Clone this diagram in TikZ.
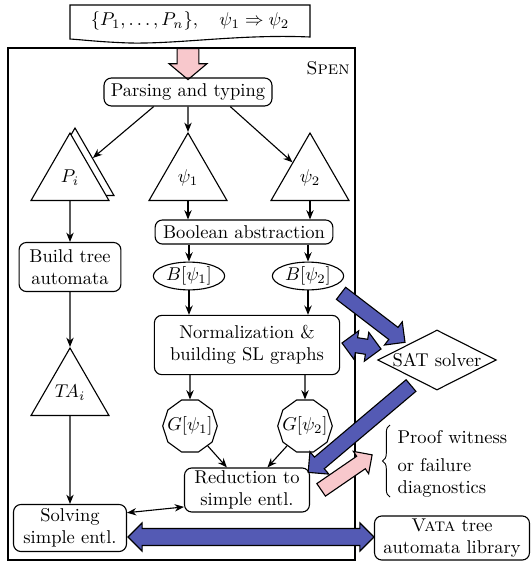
\documentclass[tikz,border=0pt]{standalone}
\usetikzlibrary{shapes.geometric,shapes.arrows,arrows.meta,calc,decorations.pathreplacing}
\definecolor{fatblue}{RGB}{84,90,180}
\definecolor{fatpink}{RGB}{248,200,204}
\newcommand\fatarrow[3]{\path let \p1=($(#3)-(#2)$), \n1={atan2(\y1,\x1)}, \n2={veclen(\x1,\y1)} in node[#1, minimum height=\n2, rotate=\n1] at ($(#2)!0.5!(#3)$) {};}
\begin{document}
\begin{tikzpicture}[x=0.54pt,y=-0.54pt, line width=0.6pt, >={Stealth[length=5pt,width=4pt]},
  box/.style={draw, rounded corners=4pt, align=center, inner sep=1pt},
  tri/.style={draw, fill=white, regular polygon, regular polygon sides=3, minimum size=48.6pt, inner sep=0pt},
  ell/.style={draw, ellipse, minimum width=38.5pt, minimum height=15pt, inner xsep=0pt, inner ysep=-1.5pt},
  deca/.style={draw, regular polygon, regular polygon sides=10, minimum size=29.5pt, inner sep=-4pt},
  bluearrow/.style={single arrow, draw=black, fill=fatblue, line width=0.6pt, inner sep=3.8pt, outer sep=0pt, single arrow head extend=3.8pt},
  bluedouble/.style={double arrow, draw=black, fill=fatblue, line width=0.6pt, inner sep=3.8pt, outer sep=0pt, double arrow head extend=3.8pt},
  pinkarrow/.style={single arrow, draw=black, fill=fatpink, line width=0.6pt, inner sep=3.8pt, outer sep=0pt, single arrow head extend=3.2pt},
  link/.style={->}
]
\useasboundingbox (0,0) rectangle (532,564);
% input document shape
\draw[fill=white] (70,5) -- (310,5) -- (310,37) .. controls (240,34) and (180,44) .. (130,43) .. controls (100,42) and (85,40) .. (70,39) -- cycle;
\node (input) at (190,21) {$\{P_1,\ldots,P_n\},\quad \psi_1\Rightarrow\psi_2$};
% frame
\draw (8,48) rectangle (355,560);
\node (spen) at (328,68) {\textsc{Spen}};
\coordinate (p0s) at (188,45);
\coordinate (p0e) at (188,74);
\fatarrow{pinkarrow, inner sep=5.6pt, single arrow head extend=4.3pt, single arrow tip angle=100}{p0s}{p0e}
% main nodes
\node[box, minimum width=90.7pt, minimum height=15.1pt] (parsing) at (188,92) {Parsing and typing};
\node[tri] (piback) at (75,173) {};
\node[tri] (pi) at (70,178) {$P_i$};
\node[tri] (psi1) at (188,178) {$\psi_1$};
\node[tri] (psi2) at (310,178) {$\psi_2$};
\node[box, minimum width=96pt, minimum height=13pt] (bool) at (244,232) {Boolean abstraction};
\node[ell] (b1) at (189,276) {$B[\psi_1]$};
\node[ell] (b2) at (308,276) {$B[\psi_2]$};
\node[box, minimum width=100pt, minimum height=32pt] (norm) at (247,345) {Normalization \&\\building SL graphs};
\node[deca] (g1) at (190,426) {$G[\psi_1]$};
\node[deca] (g2) at (305,426) {$G[\psi_2]$};
\node[box, minimum width=67.5pt, minimum height=23.8pt] (red) at (247,490) {Reduction to\\simple entl.};
\node[box, minimum width=55pt, minimum height=26.5pt] (build) at (70,267) {Build tree\\automata};
\node[tri] (ta) at (70,393) {$T\!A_i$};
\node[box, minimum width=61pt, minimum height=25.4pt] (solve) at (70,528) {Solving\\simple entl.};
\node[draw, diamond, shape aspect=2, minimum width=64pt, minimum height=32.4pt, inner sep=0pt] (sat) at (437,360) {SAT solver};
\node[box, minimum width=83.7pt, minimum height=23.8pt] (vata) at (452,538) {\textsc{Vata} tree\\automata library};
\node[anchor=west, inner sep=0pt] (proof) at (397,437) {Proof witness};
\node[anchor=west, align=left, inner sep=0pt] (fail) at (397,478) {or failure\\diagnostics};
\draw[decorate, decoration={brace, amplitude=4pt}, line width=0.5pt] (390,497) -- (390,425);
% connectors
\draw[link] (parsing.203) -- (piback);
\draw[link] (parsing.south) -- (psi1.north);
\draw[link] (parsing.341) -- (psi2);
\draw[link] (psi1.south) -- (psi1.south |- bool.north);
\draw[link] (psi2.south) -- (psi2.south |- bool.north);
\draw[link] (b1 |- bool.south) -- (b1);
\draw[link] (b2 |- bool.south) -- (b2);
\draw[link] (b1) -- (b1 |- norm.north);
\draw[link] (b2) -- (b2 |- norm.north);
\draw[link] (g1 |- norm.south) -- (g1);
\draw[link] (g2 |- norm.south) -- (g2);
\draw[link] (g1) -- (red);
\draw[link] (g2) -- (red);
\draw[link] (pi.south) -- (build.north);
\draw[link] (build.south) -- (ta.north);
\draw[link] (ta.south) -- (solve.north);
\draw[<->] (red.195) -- (solve.15);
% fat arrows
\coordinate (f1s) at (338,291); \coordinate (f1e) at (402,340);
\coordinate (f2s) at (342,343); \coordinate (f2e) at (381,349);
\coordinate (f3s) at (414,383); \coordinate (f3e) at (311,470);
\coordinate (f4s) at (128,537); \coordinate (f4e) at (374,537);
\coordinate (p1s) at (318,492); \coordinate (p1e) at (369,457);
\fatarrow{bluearrow}{f1s}{f1e}
\fatarrow{bluedouble}{f2s}{f2e}
\fatarrow{bluearrow}{f3s}{f3e}
\fatarrow{bluedouble, inner sep=4.3pt, double arrow head extend=3pt}{f4s}{f4e}
\fatarrow{pinkarrow}{p1s}{p1e}
\end{tikzpicture}
\end{document}
